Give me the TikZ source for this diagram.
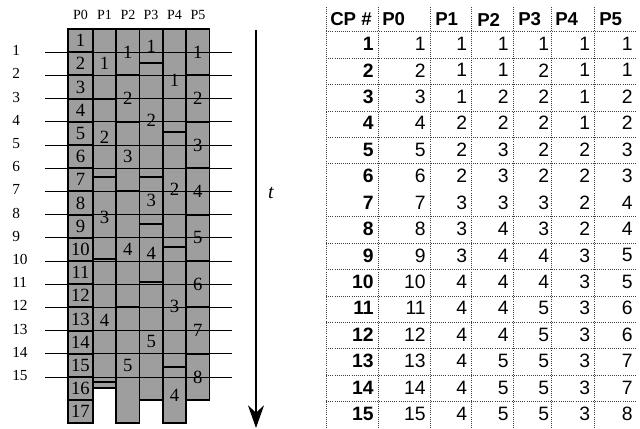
\documentclass[tikz,border=0pt]{standalone}
\usepackage{fontspec}
\setmainfont{Liberation Serif}
\newfontfamily\tabfont{Liberation Sans}
\usetikzlibrary{arrows.meta}
\definecolor{cellgray}{RGB}{158,158,158}
\tikzset{
  cellbox/.style={fill=cellgray, draw=black, line width=1.4pt},
  celllabel/.style={font=\fontsize{14}{14}\selectfont, inner sep=0pt},
  cpline/.style={line width=0.55pt},
  rowlab/.style={font=\fontsize{11.5}{12}\selectfont, anchor=west, inner sep=0pt},
  proclab/.style={font=\fontsize{10.5}{11}\selectfont, inner sep=0pt},
  tabline/.style={densely dotted, line width=0.6pt, black!75},
  tabhead/.style={font=\tabfont\bfseries\fontsize{14}{14}\selectfont, anchor=west, inner sep=0pt},
  tabcp/.style={font=\tabfont\bfseries\fontsize{14.5}{14.5}\selectfont, anchor=east, inner sep=0pt},
  tabval/.style={font=\tabfont\fontsize{14.5}{14.5}\selectfont, anchor=east, inner sep=0pt},
}
% #1 name, #2 x0, #3 x1, #4 t0, #5 t1, #6 label
\newcommand\mycell[6]{%
  \draw[cellbox] (#2,{29+23.2*(#4)}) rectangle (#3,{29+23.2*(#5)});
  \node[celllabel] (#1) at ({(#2+#3)/2},{29+23.2*((#4)+(#5))/2}) {#6};
}
\begin{document}
\begin{tikzpicture}[x=0.75pt,y=-0.75pt]
\useasboundingbox (0,0) rectangle (640,429);
% process headers
\node[proclab] (h0) at (80.5,14.5) {P0};
\node[proclab] (h1) at (104.5,14.5) {P1};
\node[proclab] (h2) at (128,14.5) {P2};
\node[proclab] (h3) at (151,14.5) {P3};
\node[proclab] (h4) at (174.5,14.5) {P4};
\node[proclab] (h5) at (198,14.5) {P5};
% P0
\foreach \i in {1,...,17} {\mycell{p0c\i}{68}{93}{\i-1}{\i}{\i}}
% P1
\mycell{p1c1}{93}{116}{0}{3}{1}
\mycell{p1c2}{93}{116}{3}{6.37}{2}
\mycell{p1c3}{93}{116}{6.37}{9.9}{3}
\mycell{p1c4}{93}{116}{9.9}{15.2}{4}
\mycell{p1c5}{93}{116}{15.2}{15.47}{}
% P2
\mycell{p2c1}{116}{139.5}{0}{2}{1}
\mycell{p2c2}{116}{139.5}{2}{4}{2}
\mycell{p2c3}{116}{139.5}{4}{7}{3}
\mycell{p2c4}{116}{139.5}{7}{12}{4}
\mycell{p2c5}{116}{139.5}{12}{17}{5}
% P3
\mycell{p3c1}{139.5}{163}{0}{1.48}{1}
\mycell{p3c2}{139.5}{163}{1.48}{6.37}{2}
\mycell{p3c3}{139.5}{163}{6.37}{8.4}{3}
\mycell{p3c4}{139.5}{163}{8.4}{10.9}{4}
\mycell{p3c5}{139.5}{163}{10.9}{16}{5}
% P4
\mycell{p4c1}{163}{186}{0}{4.43}{1}
\mycell{p4c2}{163}{186}{4.43}{9.38}{2}
\mycell{p4c3}{163}{186}{9.38}{14.57}{3}
\mycell{p4c4}{163}{186}{14.57}{17}{4}
% P5
\foreach \i in {1,...,8} {\mycell{p5c\i}{186}{209.5}{2*\i-2}{2*\i}{\i}}
% checkpoint lines
\foreach \k in {1,...,15} {
  \coordinate (L\k) at (45,{29+23.2*\k});
  \coordinate (R\k) at (232,{29+23.2*\k});
  \draw[cpline] (L\k) -- (R\k);
  \node[rowlab] (r\k) at (12,{29+23.2*\k-1.5}) {\k};
}
% time arrow
\coordinate (ttop) at (256,30);
\coordinate (tbot) at (256,428);
\draw[line width=1pt,-{Stealth[length=17pt,width=12pt]}] (ttop) -- (tbot);
\node[font=\itshape\fontsize{15}{15}\selectfont] (tlab) at (271,193) {t};
% table grid
\foreach \xx in {326,378,430,471,513,551,594} {
  \draw[tabline] (\xx,7) -- (\xx,429);
}
\foreach \j in {0,1,2,3,4,5,7,8,9,10,11,12,13,14} {
  \draw[tabline] (326,{31.7+26.43*\j}) -- (637,{31.7+26.43*\j});
}
% table header
\node[tabhead] (thcp) at (330,19.5) {CP \#};
\node[tabhead] (th0) at (382,19.5) {P0};
\node[tabhead] (th1) at (435,19.5) {P1};
\node[tabhead] (th2) at (477,19.5) {P2};
\node[tabhead] (th3) at (518,19.5) {P3};
\node[tabhead] (th4) at (555,19.5) {P4};
\node[tabhead] (th5) at (599,19.5) {P5};
% table body
\foreach \k/\a/\b/\c/\d/\e in {1/1/1/1/1/1, 2/1/1/2/1/1, 3/1/2/2/1/2, 4/2/2/2/1/2,
  5/2/3/2/2/3, 6/2/3/2/2/3, 7/3/3/3/2/4, 8/3/4/3/2/4, 9/3/4/4/3/5, 10/4/4/4/3/5,
  11/4/4/5/3/6, 12/4/4/5/3/6, 13/4/5/5/3/7, 14/4/5/5/3/7, 15/4/5/5/3/8} {
  \node[tabcp]  (cp\k) at (374,{31.7+26.43*(\k-0.5)-1}) {\k};
  \node[tabval] (va\k) at (426,{31.7+26.43*(\k-0.5)-1}) {\k};
  \node[tabval] (vb\k) at (467.5,{31.7+26.43*(\k-0.5)-1}) {\a};
  \node[tabval] (vc\k) at (509,{31.7+26.43*(\k-0.5)-1}) {\b};
  \node[tabval] (vd\k) at (549.5,{31.7+26.43*(\k-0.5)-1}) {\c};
  \node[tabval] (ve\k) at (590.5,{31.7+26.43*(\k-0.5)-1}) {\d};
  \node[tabval] (vf\k) at (633,{31.7+26.43*(\k-0.5)-1}) {\e};
}
\end{tikzpicture}
\end{document}
